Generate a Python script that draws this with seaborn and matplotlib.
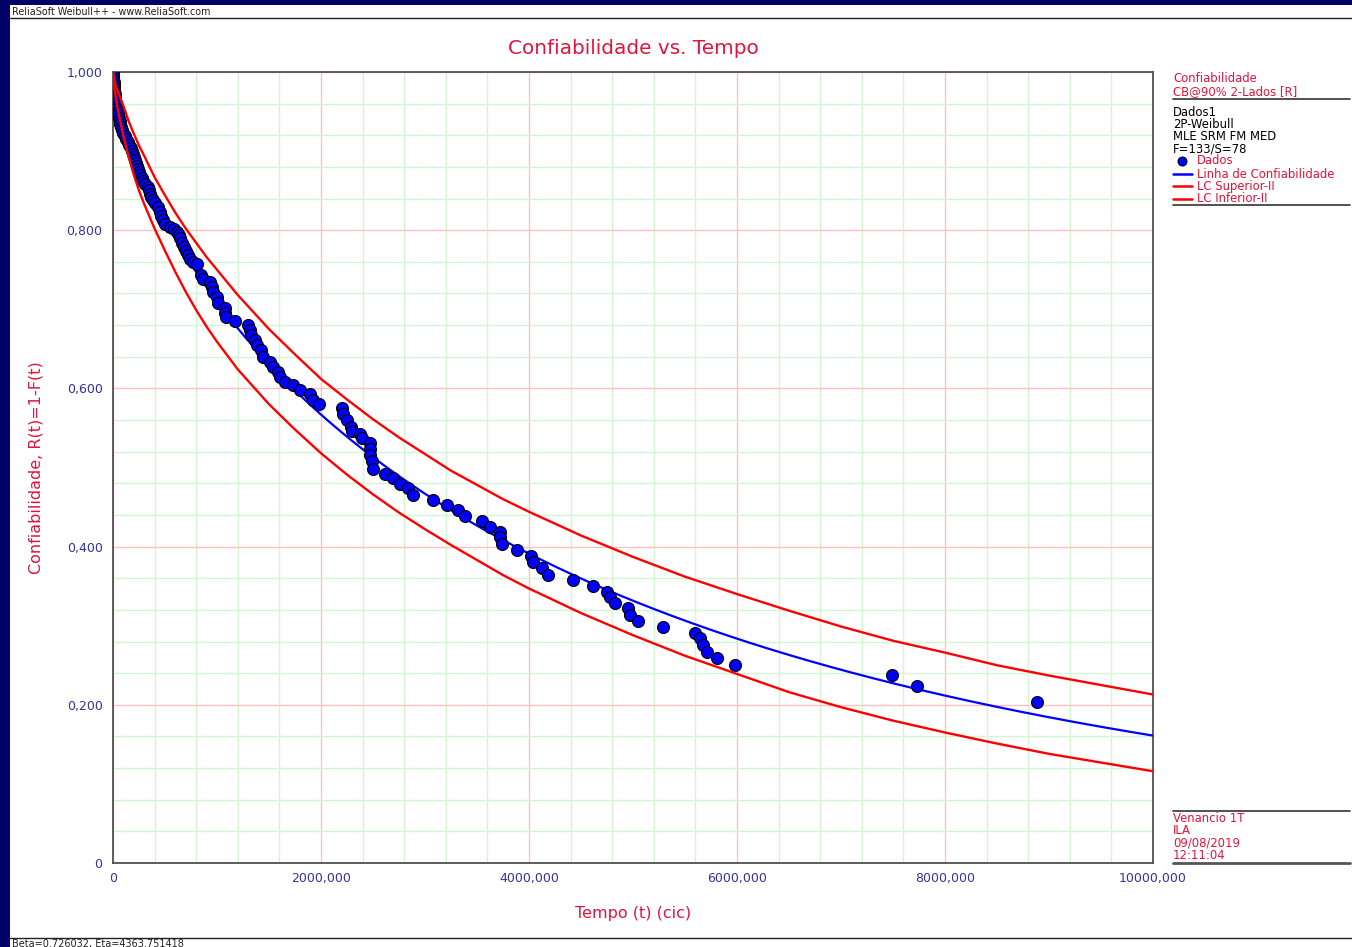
import numpy as np
import matplotlib
matplotlib.use("Agg")
import matplotlib.pyplot as plt
from matplotlib.ticker import FuncFormatter, MultipleLocator, FixedLocator
from matplotlib.lines import Line2D
from matplotlib.patches import Rectangle
import seaborn as sns

# ---------------- data ----------------
BETA = 0.726032
ETA = 4363.751418

fail_time = [2, 3, 4, 6, 8, 10, 13, 16, 20, 24, 29, 34, 39, 45, 51, 58, 64, 72, 79, 90,
             100, 112, 125, 140, 154, 176, 183, 192, 202, 212, 221, 231, 240, 250, 262, 279,
             288, 308, 337, 346, 356, 365, 385, 404, 433, 452, 462, 481, 500, 548, 587, 615,
             635, 644, 663, 683, 702, 721, 740, 769, 808,
             846, 865, 933, 952, 962, 1000, 1010, 1077, 1077, 1087, 1173, 1298, 1317, 1327,
             1365, 1385, 1423, 1442, 1510, 1538, 1587, 1606, 1654, 1731, 1798, 1894, 1923,
             1981, 2202, 2212, 2250, 2288, 2298, 2375, 2394, 2471, 2471, 2471, 2490, 2500,
             2615, 2692, 2760, 2836, 2885, 3077, 3211, 3317, 3385, 3548, 3625, 3721, 3721,
             3740, 3885, 4019, 4038, 4125, 4183, 4423, 4615, 4750, 4779, 4827, 4952, 4971,
             5048, 5288, 5596, 5644, 5673, 5711, 5808, 5981, 7490, 7731, 8885]
fail_rel = [0.999, 0.995, 0.991, 0.987, 0.984, 0.980, 0.976, 0.972, 0.968, 0.965, 0.961,
            0.957, 0.953, 0.949, 0.946, 0.942, 0.938, 0.934, 0.931, 0.927, 0.923, 0.919,
            0.915, 0.912, 0.908, 0.904, 0.900, 0.896, 0.893, 0.889, 0.885, 0.881, 0.877,
            0.874, 0.870, 0.866, 0.862, 0.858, 0.855, 0.851, 0.846, 0.842, 0.838, 0.834,
            0.829, 0.823, 0.818, 0.813, 0.808, 0.804, 0.802, 0.798, 0.794, 0.790, 0.784,
            0.779, 0.774, 0.769, 0.764, 0.760, 0.757,
            0.743, 0.738, 0.735, 0.728, 0.722, 0.716, 0.708, 0.702, 0.695, 0.690, 0.685,
            0.680, 0.674, 0.668, 0.661, 0.655, 0.649, 0.640, 0.633, 0.627, 0.621, 0.614,
            0.608, 0.604, 0.598, 0.593, 0.585, 0.580, 0.575, 0.568, 0.560, 0.551, 0.546,
            0.542, 0.537, 0.531, 0.523, 0.516, 0.508, 0.498, 0.492, 0.487, 0.479, 0.474,
            0.465, 0.459, 0.453, 0.446, 0.439, 0.432, 0.425, 0.419, 0.412, 0.403, 0.396,
            0.388, 0.381, 0.373, 0.364, 0.358, 0.350, 0.343, 0.336, 0.329, 0.322, 0.314,
            0.306, 0.298, 0.291, 0.284, 0.276, 0.267, 0.259, 0.250, 0.238, 0.224, 0.204]

upper_time = [0, 10, 25, 50, 100, 150, 200, 250, 300, 400, 500, 600, 700, 800, 900, 1000,
              1200, 1500, 1750, 2000, 2250, 2500, 2750, 3000, 3250, 3500, 3750, 4000, 4500,
              5000, 5500, 6000, 6500, 7000, 7500, 8000, 8500, 9000, 9500, 10000]
upper_rel = [1.000, 0.993, 0.984, 0.974, 0.957, 0.938, 0.922, 0.907, 0.894, 0.867, 0.844,
             0.822, 0.802, 0.784, 0.766, 0.750, 0.718, 0.675, 0.643, 0.612, 0.586, 0.561,
             0.538, 0.517, 0.496, 0.478, 0.460, 0.444, 0.414, 0.387, 0.362, 0.340, 0.319,
             0.299, 0.281, 0.266, 0.250, 0.237, 0.225, 0.213]

lower_time = [0, 10, 25, 50, 100, 150, 200, 250, 300, 400, 500, 600, 700, 800, 900, 1000,
              1200, 1500, 1750, 2000, 2250, 2500, 2750, 3000, 3250, 3500, 3750, 4000, 4500,
              5000, 5500, 6000, 6500, 7000, 7500, 8000, 8500, 9000, 9500, 10000]
lower_rel = [1.000, 0.984, 0.969, 0.950, 0.919, 0.893, 0.870, 0.850, 0.833, 0.802, 0.774,
             0.747, 0.722, 0.699, 0.678, 0.659, 0.624, 0.580, 0.548, 0.518, 0.491, 0.466,
             0.443, 0.422, 0.402, 0.383, 0.364, 0.347, 0.316, 0.288, 0.262, 0.239, 0.216,
             0.197, 0.180, 0.165, 0.151, 0.138, 0.127, 0.116]

x_ticks = [0, 2000, 4000, 6000, 8000, 10000]
y_ticks = [0, 0.2, 0.4, 0.6, 0.8, 1.0]

legend_header = ["Confiabilidade", "CB@90% 2-Lados [R]"]
legend_info = ["Dados1", "2P-Weibull", "MLE SRM FM MED", "F=133/S=78"]
legend_entries = ["Dados", "Linha de Confiabilidade", "LC Superior-II", "LC Inferior-II"]
footer_info = ["Venancio 1T", "ILA", "09/08/2019", "12:11:04"]

# ---------------- style ----------------
sns.set_theme(style="white")
plt.rcParams['font.family'] = ['DejaVu Sans']

NAVY = '#000066'
CRIMSON = '#e0143c'
TICKBLUE = '#333399'
BLUE = '#0000ff'
RED = '#ff0000'

W, H = 1352, 947
fig = plt.figure(figsize=(W / 100, H / 100), dpi=100)
fig.patch.set_facecolor(NAVY)


def fx(px):
    return px / W


def fy(py):
    return 1 - py / H


fig.add_artist(Rectangle((fx(10), 0), 1 - fx(10), fy(5), transform=fig.transFigure,
                         facecolor='white', edgecolor='none', zorder=-5))

ax = fig.add_axes([fx(113), fy(863), fx(1153) - fx(113), fy(72) - fy(863)])
ax.set_facecolor('white')

# fitted reliability line from the chart's Beta / Eta
t_line = np.concatenate([np.linspace(0, 100, 200, endpoint=False), np.linspace(100, 10000, 1200)])
r_line = np.exp(-(t_line / ETA) ** BETA)

sns.lineplot(x=t_line, y=r_line, ax=ax, color=BLUE, lw=1.6, estimator=None, zorder=3)
sns.scatterplot(x=fail_time, y=fail_rel, ax=ax, color=BLUE, edgecolor='black',
                linewidth=0.8, s=74, zorder=4)
sns.lineplot(x=upper_time, y=upper_rel, ax=ax, color=RED, lw=1.7, estimator=None, zorder=5)
sns.lineplot(x=lower_time, y=lower_rel, ax=ax, color=RED, lw=1.7, estimator=None, zorder=5)

ax.set_xlim(0, 10000)
ax.set_ylim(0, 1)
ax.xaxis.set_major_locator(FixedLocator(x_ticks))
ax.yaxis.set_major_locator(FixedLocator(y_ticks))
ax.xaxis.set_minor_locator(MultipleLocator(400))
ax.yaxis.set_minor_locator(MultipleLocator(0.04))


def fmt(v, pos):
    if abs(v) < 1e-9:
        return "0"
    return f"{v:.3f}".replace('.', ',')


ax.xaxis.set_major_formatter(FuncFormatter(fmt))
ax.yaxis.set_major_formatter(FuncFormatter(fmt))

ax.grid(which='major', color='#ffc0c0', lw=1.0, zorder=0)
ax.grid(which='minor', color='#d2f5d2', lw=1.0, zorder=0)
ax.set_axisbelow(True)

ax.tick_params(axis='both', which='major', direction='out', length=3.5, width=1,
               color='#ff9a9a', labelsize=9, labelcolor=TICKBLUE, pad=4)
ax.tick_params(axis='both', which='minor', direction='out', length=2.5, width=1,
               color='#c8f0c8')
ax.tick_params(axis='x', which='major', pad=3)

for sp in ax.spines.values():
    sp.set_color('#505050')
    sp.set_linewidth(1.3)
    sp.set_visible(True)

ax.set_xlabel("Tempo (t) (cic)", color=CRIMSON, fontsize=11.5, labelpad=15)
ax.set_ylabel("Confiabilidade, R(t)=1-F(t)", color=CRIMSON, fontsize=11.5, labelpad=16.5)

fig.text(fx(633), fy(49), "Confiabilidade vs. Tempo", color=CRIMSON, fontsize=14.4,
         ha='center', va='center')

# header / footer
fig.text(fx(12), fy(12), "ReliaSoft Weibull++ - www.ReliaSoft.com", fontsize=6.9,
         color='#222222', ha='left', va='center')
fig.add_artist(Line2D([fx(10), 1], [fy(18.5), fy(18.5)], transform=fig.transFigure,
                      color='#222222', lw=1.0))
fig.add_artist(Line2D([fx(10), 1], [fy(937.5), fy(937.5)], transform=fig.transFigure,
                      color='#222222', lw=1.0))
fig.text(fx(12), fy(939), f"Beta={BETA:.6f}, Eta={ETA:.6f}", fontsize=7,
         color='#222222', ha='left', va='top')

# right-hand legend block
LX = 1173
fs = 8.4
for i, s in enumerate(legend_header):
    fig.text(fx(LX), fy(78 + 14 * i), s, color=CRIMSON, fontsize=fs, ha='left', va='center')
fig.add_artist(Line2D([fx(LX), fx(1350)], [fy(99), fy(99)], transform=fig.transFigure,
                      color='#333333', lw=1.2))
for i, s in enumerate(legend_info):
    fig.text(fx(LX), fy(112 + 12.4 * i), s, color='black', fontsize=fs, ha='left', va='center')
entry_y = [161, 174, 186.5, 199]
entry_col = [None, BLUE, RED, RED]
for s, yy, c in zip(legend_entries, entry_y, entry_col):
    if c is None:
        fig.add_artist(Line2D([fx(1182)], [fy(yy)], transform=fig.transFigure, marker='o',
                              markersize=6.5, markerfacecolor=BLUE, markeredgecolor='black',
                              markeredgewidth=0.7, linestyle='none'))
    else:
        fig.add_artist(Line2D([fx(1173), fx(1192)], [fy(yy), fy(yy)],
                              transform=fig.transFigure, color=c, lw=1.8))
    fig.text(fx(1197), fy(yy), s, color=CRIMSON, fontsize=fs, ha='left', va='center')
fig.add_artist(Line2D([fx(LX), fx(1350)], [fy(205.5), fy(205.5)], transform=fig.transFigure,
                      color='#333333', lw=1.2))

fig.add_artist(Line2D([fx(LX), fx(1350)], [fy(811), fy(811)], transform=fig.transFigure,
                      color='#333333', lw=1.2))
for i, s in enumerate(footer_info):
    fig.text(fx(LX), fy(818.5 + 12.2 * i), s, color=CRIMSON, fontsize=fs, ha='left', va='center')
fig.add_artist(Line2D([fx(LX), fx(1350)], [fy(862.5), fy(862.5)], transform=fig.transFigure,
                      color='#555555', lw=2.0))

fig.savefig("out.png", dpi=100, facecolor=fig.get_facecolor())
